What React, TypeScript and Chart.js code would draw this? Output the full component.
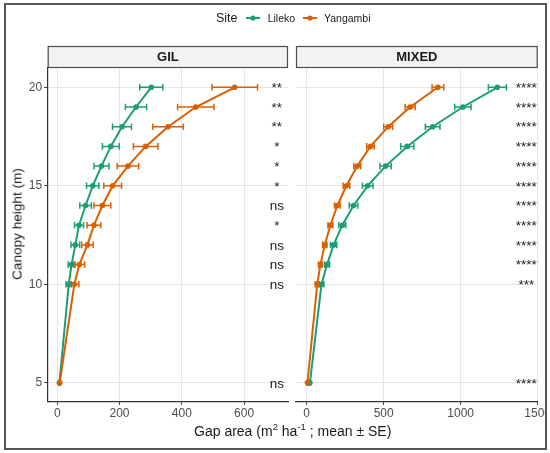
import { useEffect, useRef } from "react";
import { Chart, registerables } from "chart.js";

Chart.register(...registerables);

const FONT = "'Liberation Sans', Arial, sans-serif";
const GREEN = "#1B9E77";
const ORANGE = "#D95F02";

// canopy heights (m), shared by both panels
const HEIGHTS = [5, 10, 11, 12, 13, 14, 15, 16, 17, 18, 19, 20];
const Y_TICKS = [5, 10, 15, 20];

// GIL panel
const GIL_LILEKO_MEAN = [7, 37, 46, 58, 70, 91, 114, 142, 172, 208, 253, 302];
const GIL_LILEKO_SE = [1, 9, 11, 14, 14.5, 18.5, 20, 24, 27, 30.5, 34, 37];
const GIL_YANGAMBI_MEAN = [8, 55, 71, 97, 118, 145, 178, 227, 284, 356, 445, 570];
const GIL_YANGAMBI_SE = [1.5, 14.5, 17, 18.5, 22, 27, 28.5, 34.5, 39.5, 49, 58.5, 73];
const GIL_SIG = ["ns", "ns", "ns", "ns", "*", "ns", "*", "*", "*", "**", "**", "**"];
const GIL_X_TICKS = [0, 200, 400, 600];

// MIXED panel
const MIXED_LILEKO_MEAN = [21, 96, 132, 175, 231, 304, 396, 512, 653, 818, 1014, 1238];
const MIXED_LILEKO_SE = [3, 15.5, 16.5, 20.5, 22.5, 28, 34.5, 36.5, 43, 47.5, 53, 58.5];
const MIXED_YANGAMBI_MEAN = [5, 68, 89, 117, 154, 199, 258, 328, 414, 529, 672, 852];
const MIXED_YANGAMBI_SE = [2, 12, 11.5, 14, 16, 18.5, 21.5, 22.5, 24.5, 29, 32.5, 38];
const MIXED_SIG = ["****", "***", "****", "****", "****", "****", "****", "****", "****", "****", "****", "****"];
const MIXED_X_TICKS = [0, 500, 1000, 1500];

interface PanelProps {
  strip: string;
  lileko: number[];
  lilekoSe: number[];
  yangambi: number[];
  yangambiSe: number[];
  sig: string[];
  sigX: number;
  xMin: number;
  xMax: number;
  xTicks: number[];
  showY: boolean;
  padLeft: number;
  padRight: number;
  left: number;
  width: number;
}

function Panel(p: PanelProps) {
  const canvasRef = useRef<HTMLCanvasElement>(null);

  useEffect(() => {
    if (!canvasRef.current) return;

    const series = [
      { mean: p.lileko, se: p.lilekoSe, color: GREEN },
      { mean: p.yangambi, se: p.yangambiSe, color: ORANGE },
    ];

    const panelPlugin = {
      id: "panelExtras",
      beforeDraw(chart: Chart) {
        const { ctx, chartArea } = chart;
        const top = chartArea.top - 22;
        ctx.save();
        ctx.fillStyle = "#f2f2f2";
        ctx.fillRect(chartArea.left, top, chartArea.right - chartArea.left, 22);
        ctx.strokeStyle = "#4d4d4d";
        ctx.lineWidth = 1.2;
        ctx.strokeRect(chartArea.left + 0.5, top + 0.5, chartArea.right - chartArea.left - 1, 21);
        ctx.fillStyle = "#1a1a1a";
        ctx.font = `bold 13px ${FONT}`;
        ctx.textAlign = "center";
        ctx.textBaseline = "middle";
        ctx.fillText(p.strip, (chartArea.left + chartArea.right) / 2, top + 11.5);
        ctx.restore();
      },
      beforeDatasetsDraw(chart: Chart) {
        const { ctx } = chart;
        const xs = chart.scales.x;
        const ys = chart.scales.y;
        ctx.save();
        ctx.lineWidth = 1.5;
        series.forEach((s) => {
          ctx.strokeStyle = s.color;
          HEIGHTS.forEach((h, i) => {
            const y = ys.getPixelForValue(h);
            const x0 = xs.getPixelForValue(s.mean[i] - s.se[i]);
            const x1 = xs.getPixelForValue(s.mean[i] + s.se[i]);
            ctx.beginPath();
            ctx.moveTo(x0, y);
            ctx.lineTo(x1, y);
            ctx.moveTo(x0, y - 3.3);
            ctx.lineTo(x0, y + 3.3);
            ctx.moveTo(x1, y - 3.3);
            ctx.lineTo(x1, y + 3.3);
            ctx.stroke();
          });
        });
        ctx.restore();
      },
      afterDatasetsDraw(chart: Chart) {
        const { ctx } = chart;
        const xs = chart.scales.x;
        const ys = chart.scales.y;
        ctx.save();
        ctx.fillStyle = "#1a1a1a";
        ctx.font = `13.5px ${FONT}`;
        ctx.textAlign = "center";
        ctx.textBaseline = "middle";
        HEIGHTS.forEach((h, i) => {
          ctx.fillText(p.sig[i], xs.getPixelForValue(p.sigX), ys.getPixelForValue(h) + 1);
        });
        ctx.restore();
      },
    };

    const chart = new Chart(canvasRef.current, {
      type: "scatter",
      data: {
        datasets: series
          .map((s) => ({
            data: HEIGHTS.map((h, i) => ({ x: s.mean[i], y: h })),
            showLine: true,
            borderColor: s.color,
            backgroundColor: s.color,
            pointBackgroundColor: s.color,
            pointBorderWidth: 0,
            pointRadius: 2.8,
            borderWidth: 2,
            tension: 0,
          }))
          .reverse(),
      },
      options: {
        animation: false,
        responsive: true,
        maintainAspectRatio: false,
        layout: { padding: { top: 68, left: p.padLeft, right: p.padRight, bottom: 0 } },
        plugins: { legend: { display: false }, tooltip: { enabled: false } },
        scales: {
          x: {
            type: "linear",
            min: p.xMin,
            max: p.xMax,
            afterBuildTicks: (s) => {
              s.ticks = p.xTicks.map((v) => ({ value: v }));
            },
            afterFit: (s) => {
              s.height = 51.7;
              s.paddingLeft = 0;
              s.paddingRight = 0;
            },
            grid: { color: "#e6e6e6", lineWidth: 1, tickColor: "#333", tickLength: 3.5 },
            border: { color: "#333", width: 1.2 },
            ticks: {
              color: "#4d4d4d",
              font: { family: FONT, size: 12 },
              padding: 1.5,
              maxRotation: 0,
              autoSkip: false,
              callback: (v) => String(v),
            },
          },
          y: {
            type: "linear",
            min: 4.06,
            max: 20.98,
            afterBuildTicks: (s) => {
              s.ticks = Y_TICKS.map((v) => ({ value: v }));
            },
            afterFit: (s) => {
              s.width = p.showY ? 47.7 : 0;
              s.paddingTop = 0;
              s.paddingBottom = 0;
            },
            grid: {
              color: "#e6e6e6",
              lineWidth: 1,
              tickColor: "#333",
              tickLength: 3.5,
              drawTicks: p.showY,
            },
            border: { display: p.showY, color: "#333", width: 1.2 },
            ticks: {
              display: p.showY,
              color: "#4d4d4d",
              font: { family: FONT, size: 12 },
              padding: 2,
              callback: (v) => String(v),
            },
          },
        },
      },
      plugins: [panelPlugin],
    });

    return () => chart.destroy();
  }, []);

  return (
    <div style={{ position: "absolute", left: p.left, top: 0, width: p.width, height: 453 }}>
      <canvas ref={canvasRef} />
    </div>
  );
}

function LegendKey({ color, left }: { color: string; left: number }) {
  return (
    <svg style={{ position: "absolute", left, top: 13 }} width={14} height={10}>
      <line x1={0} y1={5} x2={14} y2={5} stroke={color} strokeWidth={2} />
      <circle cx={7} cy={5} r={2.6} fill={color} />
    </svg>
  );
}

export default function App() {
  useEffect(() => {
    document.body.style.margin = "0";
  }, []);

  const text = { position: "absolute" as const, fontFamily: FONT, color: "#1a1a1a", whiteSpace: "nowrap" as const };

  return (
    <div style={{ position: "relative", width: 550, height: 453, background: "#fff", overflow: "hidden" }}>
      <Panel
        strip="GIL"
        lileko={GIL_LILEKO_MEAN}
        lilekoSe={GIL_LILEKO_SE}
        yangambi={GIL_YANGAMBI_MEAN}
        yangambiSe={GIL_YANGAMBI_SE}
        sig={GIL_SIG}
        sigX={705}
        xMin={-30.6}
        xMax={741}
        xTicks={GIL_X_TICKS}
        showY={true}
        padLeft={0}
        padRight={2.3}
        left={0}
        width={292}
      />
      <Panel
        strip="MIXED"
        lileko={MIXED_LILEKO_MEAN}
        lilekoSe={MIXED_LILEKO_SE}
        yangambi={MIXED_YANGAMBI_MEAN}
        yangambiSe={MIXED_YANGAMBI_SE}
        sig={MIXED_SIG}
        sigX={1426}
        xMin={-69.5}
        xMax={1500}
        xTicks={MIXED_X_TICKS}
        showY={false}
        padLeft={4}
        padRight={7.3}
        left={292}
        width={253}
      />

      {/* legend */}
      <div style={{ ...text, left: 216, top: 10, fontSize: 12.5, lineHeight: "16px" }}>Site</div>
      <LegendKey color={GREEN} left={246.3} />
      <div style={{ ...text, left: 267.7, top: 11, fontSize: 10.5, lineHeight: "14px" }}>Lileko</div>
      <LegendKey color={ORANGE} left={303.3} />
      <div style={{ ...text, left: 324, top: 11, fontSize: 10.5, lineHeight: "14px" }}>Yangambi</div>

      {/* axis titles */}
      <div
        style={{
          ...text,
          left: 17,
          top: 224,
          fontSize: 13.6,
          transform: "translate(-50%, -50%) rotate(-90deg)",
        }}
      >
        Canopy height (m)
      </div>
      <div style={{ ...text, left: 292.7, top: 431, fontSize: 14, transform: "translate(-50%, -50%)" }}>
        Gap area (m<sup style={{ fontSize: 9.5, lineHeight: 0 }}>2</sup> ha
        <sup style={{ fontSize: 9.5, lineHeight: 0 }}>-1</sup> ; mean ± SE)
      </div>

      {/* outer frame */}
      <div
        style={{
          position: "absolute",
          left: 3.7,
          top: 3,
          width: 543,
          height: 447.3,
          boxSizing: "border-box",
          border: "2px solid #555",
          pointerEvents: "none",
        }}
      />
    </div>
  );
}
